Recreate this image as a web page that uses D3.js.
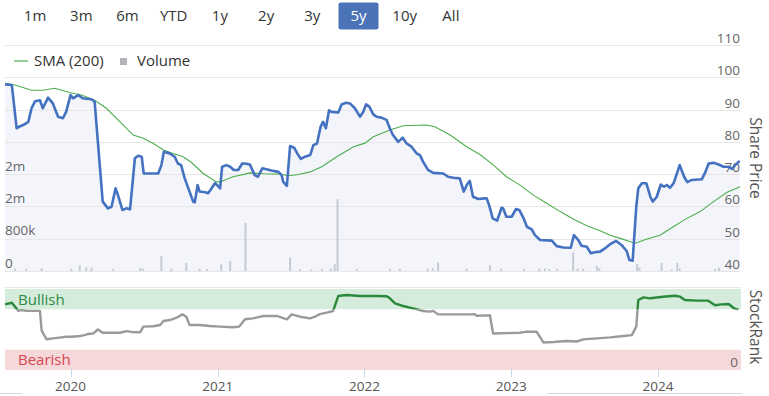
<!DOCTYPE html>
<html>
<head>
<meta charset="utf-8">
<script src="https://cdn.jsdelivr.net/npm/d3@7"></script>
<style>
  body { margin: 0; background: #fff; font-family: "Open Sans", sans-serif; }
  svg { display: block; }
</style>
</head>
<body>
<svg id="chart" width="769" height="396"></svg>
<script>
// ---- data ----
const rangeButtons = ["1m", "3m", "6m", "YTD", "1y", "2y", "3y", "5y", "10y", "All"];
const activeRange = "5y";

const price = [
  ["2019-07-22", 97.8], ["2019-08-08", 97.6], ["2019-08-20", 84.2], ["2019-08-26", 84.7],
  ["2019-09-05", 85.2], ["2019-09-18", 86.2], ["2019-09-26", 90.4], ["2019-10-05", 92.6],
  ["2019-10-17", 92.9], ["2019-10-24", 90.4], ["2019-11-06", 93.7], ["2019-11-18", 91.9],
  ["2019-12-01", 87.8], ["2019-12-13", 87.3], ["2019-12-21", 89.3], ["2020-01-01", 94.5],
  ["2020-01-07", 93.5], ["2020-01-20", 94.5], ["2020-01-31", 93.5], ["2020-02-22", 93.2],
  ["2020-03-01", 92.4], ["2020-03-09", 80.0], ["2020-03-21", 61.5], ["2020-04-03", 59.4],
  ["2020-04-12", 59.9], ["2020-04-22", 65.6], ["2020-04-28", 63.5], ["2020-05-09", 58.9],
  ["2020-05-19", 59.4], ["2020-05-28", 59.1], ["2020-06-09", 74.9], ["2020-06-17", 75.7],
  ["2020-06-26", 75.4], ["2020-07-01", 70.2], ["2020-08-06", 70.2], ["2020-08-14", 72.8],
  ["2020-08-20", 76.9], ["2020-09-04", 76.4], ["2020-09-16", 75.4], ["2020-09-24", 73.3],
  ["2020-10-02", 72.8], ["2020-10-11", 68.7], ["2020-10-23", 64.6], ["2020-11-01", 61.5],
  ["2020-11-05", 61.3], ["2020-11-12", 66.6], ["2020-11-17", 64.6], ["2020-12-01", 64.4],
  ["2020-12-08", 64.1], ["2020-12-14", 65.1], ["2020-12-25", 67.2], ["2021-01-02", 66.3],
  ["2021-01-07", 65.6], ["2021-01-12", 72.3], ["2021-01-23", 72.8], ["2021-02-01", 72.3],
  ["2021-02-10", 71.3], ["2021-02-21", 71.3], ["2021-03-03", 73.3], ["2021-03-10", 73.3],
  ["2021-03-22", 73.0], ["2021-04-03", 69.7], ["2021-04-11", 69.2], ["2021-04-22", 71.8],
  ["2021-05-02", 71.5], ["2021-05-15", 71.1], ["2021-06-01", 70.7], ["2021-06-09", 69.7],
  ["2021-06-13", 67.6], ["2021-06-22", 66.4], ["2021-06-30", 78.7], ["2021-07-10", 78.2],
  ["2021-07-18", 76.4], ["2021-07-27", 74.7], ["2021-08-06", 75.4], ["2021-08-19", 75.9],
  ["2021-08-27", 79.0], ["2021-09-05", 79.5], ["2021-09-14", 84.7], ["2021-09-20", 86.2],
  ["2021-09-27", 84.2], ["2021-10-05", 89.8], ["2021-10-11", 89.3], ["2021-10-28", 89.1],
  ["2021-11-05", 91.6], ["2021-11-16", 92.1], ["2021-11-26", 91.9], ["2021-12-08", 90.4],
  ["2021-12-21", 87.8], ["2021-12-29", 89.3], ["2022-01-05", 91.6], ["2022-01-13", 90.9],
  ["2022-01-23", 88.5], ["2022-01-31", 87.8], ["2022-02-12", 87.5], ["2022-02-25", 86.8],
  ["2022-03-05", 84.2], ["2022-03-13", 82.1], ["2022-03-26", 80.0], ["2022-04-06", 81.3],
  ["2022-04-16", 79.5], ["2022-04-28", 78.5], ["2022-05-11", 76.4], ["2022-05-19", 75.9],
  ["2022-05-27", 73.8], ["2022-06-08", 71.3], ["2022-06-21", 70.4], ["2022-07-16", 70.2],
  ["2022-07-28", 69.2], ["2022-08-10", 68.9], ["2022-08-26", 68.7], ["2022-09-05", 64.6],
  ["2022-09-13", 66.8], ["2022-09-20", 67.9], ["2022-09-28", 63.0], ["2022-10-11", 62.3],
  ["2022-10-27", 62.5], ["2022-11-01", 62.5], ["2022-11-07", 60.4], ["2022-11-16", 56.3],
  ["2022-11-27", 55.6], ["2022-12-08", 59.6], ["2022-12-12", 59.4], ["2022-12-20", 56.8],
  ["2023-01-02", 56.8], ["2023-01-13", 59.2], ["2023-01-21", 58.9], ["2023-02-01", 56.3],
  ["2023-02-09", 53.7], ["2023-02-21", 52.9], ["2023-03-01", 51.1], ["2023-03-14", 49.6],
  ["2023-04-12", 49.4], ["2023-04-24", 47.7], ["2023-05-11", 47.3], ["2023-05-29", 47.2],
  ["2023-06-06", 51.1], ["2023-06-17", 49.6], ["2023-06-25", 47.8], ["2023-07-08", 47.5],
  ["2023-07-18", 45.5], ["2023-07-28", 45.8], ["2023-08-10", 46.0], ["2023-08-22", 47.0],
  ["2023-09-04", 48.3], ["2023-09-19", 49.3], ["2023-10-03", 48.0], ["2023-10-15", 46.2],
  ["2023-10-22", 43.4], ["2023-10-30", 43.2], ["2023-11-08", 59.9], ["2023-11-13", 65.6],
  ["2023-11-22", 67.2], ["2023-12-03", 67.2], ["2023-12-13", 63.0], ["2023-12-19", 61.5],
  ["2023-12-29", 63.0], ["2024-01-08", 66.8], ["2024-01-16", 66.1], ["2024-01-23", 66.6],
  ["2024-01-31", 65.8], ["2024-02-09", 67.2], ["2024-02-24", 72.8], ["2024-03-06", 69.2],
  ["2024-03-14", 67.5], ["2024-03-25", 68.2], ["2024-04-19", 68.4], ["2024-04-28", 70.7],
  ["2024-05-06", 73.3], ["2024-05-18", 73.5], ["2024-05-31", 73.0], ["2024-06-12", 72.3],
  ["2024-06-25", 72.3], ["2024-07-03", 71.6], ["2024-07-11", 72.8], ["2024-07-22", 74.1]
];

const sma200 = [
  ["2019-07-22", 98.1], ["2019-08-16", 97.6], ["2019-09-26", 96.0], ["2019-10-24", 96.0],
  ["2019-11-23", 96.6], ["2019-12-30", 95.3], ["2020-01-28", 94.5], ["2020-03-01", 92.9],
  ["2020-03-30", 90.4], ["2020-05-03", 86.2], ["2020-06-05", 82.1], ["2020-06-30", 81.1],
  ["2020-07-25", 79.5], ["2020-08-19", 77.5], ["2020-09-12", 76.4], ["2020-10-07", 75.4],
  ["2020-10-28", 73.6], ["2020-11-26", 70.2], ["2020-12-29", 67.6], ["2021-01-07", 67.6],
  ["2021-02-08", 69.2], ["2021-03-10", 70.0], ["2021-03-22", 70.4], ["2021-04-25", 70.1],
  ["2021-06-05", 70.0], ["2021-06-26", 69.5], ["2021-07-21", 69.9], ["2021-08-19", 70.7],
  ["2021-09-17", 72.3], ["2021-10-24", 75.4], ["2021-12-05", 78.5], ["2022-01-02", 79.6],
  ["2022-01-23", 81.6], ["2022-03-05", 83.7], ["2022-04-08", 85.0], ["2022-06-04", 85.2],
  ["2022-06-25", 84.7], ["2022-08-02", 82.1], ["2022-09-12", 78.5], ["2022-10-16", 76.0],
  ["2022-11-18", 72.8], ["2022-12-20", 69.2], ["2023-01-23", 66.6], ["2023-02-25", 63.5],
  ["2023-03-30", 61.0], ["2023-05-03", 58.4], ["2023-06-04", 56.1], ["2023-07-08", 54.0],
  ["2023-08-10", 52.5], ["2023-09-04", 51.1], ["2023-09-29", 50.1], ["2023-11-05", 48.6],
  ["2023-12-05", 49.9], ["2024-01-06", 51.1], ["2024-02-08", 53.7], ["2024-03-13", 56.3],
  ["2024-04-15", 58.4], ["2024-05-18", 61.5], ["2024-06-21", 64.4], ["2024-07-23", 66.1]
];

const volume = [
  ["2019-08-16", 60000], ["2019-09-13", 50000], ["2019-10-21", 70000], ["2020-01-03", 60000],
  ["2020-01-24", 140000], ["2020-02-09", 90000], ["2020-02-22", 80000], ["2020-04-16", 50000],
  ["2020-06-22", 70000], ["2020-06-29", 60000], ["2020-08-14", 370000], ["2020-09-08", 60000],
  ["2020-10-15", 200000], ["2020-11-17", 60000], ["2020-12-05", 50000], ["2021-01-10", 170000],
  ["2021-02-01", 250000], ["2021-03-11", 1190000], ["2021-06-30", 330000], ["2021-07-25", 40000],
  ["2021-08-22", 40000], ["2021-09-17", 50000], ["2021-10-09", 60000], ["2021-10-19", 170000],
  ["2021-10-26", 1780000], ["2021-12-13", 50000], ["2022-03-05", 50000], ["2022-03-30", 60000],
  ["2022-06-07", 60000], ["2022-06-20", 70000], ["2022-07-03", 210000], ["2022-09-12", 60000],
  ["2022-11-09", 140000], ["2022-12-07", 60000], ["2023-02-01", 50000], ["2023-03-12", 60000],
  ["2023-03-26", 60000], ["2023-04-06", 50000], ["2023-04-25", 50000], ["2023-06-04", 460000],
  ["2023-06-15", 60000], ["2023-06-29", 60000], ["2023-08-02", 130000], ["2023-08-08", 70000],
  ["2023-11-10", 170000], ["2023-11-16", 90000], ["2024-01-10", 200000], ["2024-02-04", 40000],
  ["2024-02-18", 200000], ["2024-02-24", 60000], ["2024-05-22", 50000], ["2024-06-01", 80000]
];

const stockRank = [
  ["2019-07-22", 81], ["2019-08-08", 83], ["2019-08-16", 78], ["2019-08-24", 73],
  ["2019-09-01", 74], ["2019-09-13", 73], ["2019-10-17", 73], ["2019-10-21", 49],
  ["2019-11-02", 38], ["2019-11-18", 39], ["2019-12-05", 40], ["2019-12-21", 41],
  ["2020-01-03", 41], ["2020-01-24", 42], ["2020-02-05", 43], ["2020-02-13", 44.4],
  ["2020-02-26", 45], ["2020-03-09", 50], ["2020-03-21", 46], ["2020-04-07", 46],
  ["2020-05-03", 46], ["2020-05-19", 48], ["2020-06-01", 47], ["2020-06-22", 46.5],
  ["2020-06-30", 53.5], ["2020-07-25", 54], ["2020-08-11", 55.5], ["2020-08-19", 60.5],
  ["2020-09-04", 61.7], ["2020-09-21", 64.6], ["2020-10-05", 68.7], ["2020-10-15", 65.8],
  ["2020-10-23", 55.5], ["2020-11-17", 55.5], ["2020-12-12", 54.3], ["2021-01-07", 53.5],
  ["2021-02-08", 52.7], ["2021-02-23", 53.5], ["2021-03-10", 62.6], ["2021-03-30", 63.8],
  ["2021-04-24", 66.7], ["2021-05-28", 66.7], ["2021-06-22", 62.6], ["2021-07-04", 68.7],
  ["2021-07-25", 65.8], ["2021-08-19", 63.8], ["2021-08-31", 65.8], ["2021-09-12", 69],
  ["2021-09-29", 70.8], ["2021-10-15", 72.8], ["2021-10-20", 80], ["2021-10-28", 91.4],
  ["2021-11-18", 92.6], ["2021-12-21", 91.4], ["2022-01-31", 91.4], ["2022-02-25", 91.0],
  ["2022-03-04", 89.0], ["2022-03-18", 82.3], ["2022-04-07", 79], ["2022-05-02", 76],
  ["2022-05-27", 72.8], ["2022-06-13", 72], ["2022-06-21", 73], ["2022-07-03", 68.7],
  ["2022-08-10", 68.7], ["2022-09-20", 68.7], ["2022-10-02", 69], ["2022-10-07", 67],
  ["2022-11-09", 67.5], ["2022-11-17", 45], ["2022-12-20", 45.5], ["2023-01-23", 46],
  ["2023-02-09", 47.3], ["2023-03-05", 47.3], ["2023-03-22", 34], ["2023-04-16", 34.5],
  ["2023-05-19", 35.8], ["2023-06-13", 35.2], ["2023-06-30", 37.8], ["2023-08-02", 39],
  ["2023-09-04", 40.3], ["2023-10-07", 42], ["2023-10-28", 43], ["2023-11-08", 53.5],
  ["2023-11-13", 86.4], ["2023-11-26", 89.7], ["2023-12-13", 88.5], ["2024-01-14", 90.5],
  ["2024-02-12", 91.7], ["2024-02-25", 90.5], ["2024-03-08", 86.4], ["2024-04-06", 85.6],
  ["2024-05-05", 85.6], ["2024-05-22", 80], ["2024-06-07", 81], ["2024-06-25", 81.5],
  ["2024-07-07", 76.5], ["2024-07-19", 74.5]
];

const priceTicks = [40, 50, 60, 70, 80, 90, 100, 110];
const volumeTicks = [0, 800000, 1600000, 2400000];
const yearTicks = ["2020-01-01", "2021-01-01", "2022-01-01", "2023-01-01", "2024-01-01"];
const rankBands = [
  { name: "Bullish", from: 75, to: 100, fill: "#d5ebdc", color: "#2f8c3f" },
  { name: "Bearish", from: 0, to: 25, fill: "#f5d8d9", color: "#d9474f" }
];
const bullishLevel = 75;

// ---- scales ----
const parse = d3.timeParse("%Y-%m-%d");
const left = 5, right = 740;

const x = d3.scaleTime()
    .domain([parse("2019-07-22"), parse("2024-07-23")])
    .range([left, right]);

const yPrice = d3.scaleLinear().domain([40, 110]).range([271, 45]);
const yVol = d3.scaleLinear().domain([0, 800000]).range([271, 271 - (271 - 45) / 7]);
const yRank = d3.scaleLinear().domain([0, 100]).range([370, 289]);

const svg = d3.select('#chart');
const font = '"Open Sans", sans-serif';

// ---- range selector ----
const btn = d3.scaleBand().domain(rangeButtons).range([12, 474]);
const buttons = svg.append('g').selectAll('g').data(rangeButtons).join('g')
    .attr('transform', d => `translate(${btn(d) + btn.bandwidth() / 2},0)`);
buttons.filter(d => d === activeRange).append('rect')
    .attr('x', -20).attr('y', 2.5).attr('width', 40).attr('height', 27)
    .attr('rx', 2).attr('fill', '#4a73b8');
buttons.append('text')
    .attr('y', 21).attr('text-anchor', 'middle')
    .attr('font-family', font).attr('font-size', 15)
    .attr('fill', d => d === activeRange ? '#fff' : '#333')
    .text(d => d);

// ---- price panel ----
const priceData = price.map(([d, v]) => ({ date: parse(d), value: v }));
const smaData = sma200.map(([d, v]) => ({ date: parse(d), value: v }));

// area first so the grid shows through it
svg.append('path')
    .datum(priceData)
    .attr('fill', '#f3f5fb')
    .attr('d', d3.area().x(d => x(d.date)).y0(yPrice(40)).y1(d => yPrice(d.value)));

const grid = svg.append('g');
grid.selectAll('line').data(priceTicks).join('line')
    .attr('x1', left).attr('x2', right)
    .attr('y1', d => Math.round(yPrice(d)) + 0.5).attr('y2', d => Math.round(yPrice(d)) + 0.5)
    .attr('stroke', '#e6e6e6');

svg.append('g').selectAll('rect').data(volume).join('rect')
    .attr('x', d => x(parse(d[0])) - 1)
    .attr('y', d => yVol(d[1]))
    .attr('width', 2)
    .attr('height', d => yVol(0) - yVol(d[1]))
    .attr('fill', '#c8cad5');

grid.selectAll('text.price').data(priceTicks).join('text')
    .attr('class', 'price')
    .attr('x', right).attr('y', d => yPrice(d) - 2)
    .attr('text-anchor', 'end')
    .attr('font-family', font).attr('font-size', 13.5).attr('fill', '#666')
    .text(d => d);

const volFmt = v => v >= 1e6 ? Math.round(v / 1e6) + 'm' : v >= 1000 ? (v / 1000) + 'k' : v;
grid.selectAll('text.vol').data(volumeTicks).join('text')
    .attr('class', 'vol')
    .attr('x', left).attr('y', d => yVol(d) - 3.5)
    .attr('font-family', font).attr('font-size', 13.5).attr('fill', '#666')
    .text(volFmt);

svg.append('path')
    .datum(smaData)
    .attr('fill', 'none')
    .attr('stroke', '#4cae4c')
    .attr('stroke-width', 1.1)
    .attr('d', d3.line().x(d => x(d.date)).y(d => yPrice(d.value)));

svg.append('path')
    .datum(priceData)
    .attr('fill', 'none')
    .attr('stroke', '#4472c0')
    .attr('stroke-width', 2.6)
    .attr('stroke-linejoin', 'round')
    .attr('d', d3.line().x(d => x(d.date)).y(d => yPrice(d.value)));

// legend
const legend = svg.append('g').attr('font-family', font).attr('font-size', 15).attr('fill', '#333');
legend.append('line').attr('x1', 14).attr('x2', 28).attr('y1', 61).attr('y2', 61)
    .attr('stroke', '#4cae4c').attr('stroke-width', 1.2);
legend.append('text').attr('x', 34).attr('y', 66).text('SMA (200)');
legend.append('rect').attr('x', 120).attr('y', 58).attr('width', 7).attr('height', 7).attr('fill', '#b4b4b8');
legend.append('text').attr('x', 137).attr('y', 66).text('Volume');

svg.append('text')
    .attr('transform', 'translate(750,158) rotate(90)')
    .attr('text-anchor', 'middle')
    .attr('font-family', font).attr('font-size', 15.5).attr('fill', '#555')
    .text('Share Price');

// ---- StockRank panel ----
svg.append('line').attr('x1', left).attr('x2', right + 1).attr('y1', 287.5).attr('y2', 287.5)
    .attr('stroke', '#e6e6e6');

svg.append('g').selectAll('rect').data(rankBands).join('rect')
    .attr('x', left).attr('width', right + 1 - left)
    .attr('y', d => yRank(d.to)).attr('height', d => yRank(d.from) - yRank(d.to))
    .attr('fill', d => d.fill);

svg.append('g').selectAll('text').data(rankBands).join('text')
    .attr('x', 18).attr('y', d => (yRank(d.to) + yRank(d.from)) / 2 + 5.5)
    .attr('font-family', font).attr('font-size', 15)
    .attr('fill', d => d.color)
    .text(d => d.name);

svg.append('text')
    .attr('x', right - 2).attr('y', yRank(0) - 3)
    .attr('text-anchor', 'end')
    .attr('font-family', font).attr('font-size', 13.5).attr('fill', '#666')
    .text(0);

const defs = svg.append('defs');
defs.append('clipPath').attr('id', 'clip-bull').append('rect')
    .attr('x', 0).attr('y', 0).attr('width', 769).attr('height', yRank(bullishLevel));
defs.append('clipPath').attr('id', 'clip-rest').append('rect')
    .attr('x', 0).attr('y', yRank(bullishLevel)).attr('width', 769).attr('height', 396);

const rankData = stockRank.map(([d, v]) => ({ date: parse(d), value: v }));
const rankLine = d3.line().x(d => x(d.date)).y(d => yRank(d.value));
[['clip-rest', '#9a9a9a'], ['clip-bull', '#2a8a3c']].forEach(([clip, colour]) => {
    svg.append('path')
        .datum(rankData)
        .attr('clip-path', `url(#${clip})`)
        .attr('fill', 'none')
        .attr('stroke', colour)
        .attr('stroke-width', 2.4)
        .attr('stroke-linejoin', 'round')
        .attr('d', rankLine);
});

svg.append('text')
    .attr('transform', 'translate(750,327) rotate(90)')
    .attr('text-anchor', 'middle')
    .attr('font-family', font).attr('font-size', 15.5).attr('fill', '#555')
    .text('StockRank');

// ---- x axis ----
const years = yearTicks.map(parse);
const xAxis = svg.append('g');
xAxis.selectAll('line').data(years).join('line')
    .attr('x1', d => Math.round(x(d)) + 0.5).attr('x2', d => Math.round(x(d)) + 0.5)
    .attr('y1', 368).attr('y2', 377)
    .attr('stroke', '#ccd6eb');
xAxis.selectAll('text').data(years).join('text')
    .attr('x', d => x(d)).attr('y', 391)
    .attr('text-anchor', 'middle')
    .attr('font-family', font).attr('font-size', 13.5).attr('fill', '#555')
    .text(d3.timeFormat('%Y'));

// navigator edge
svg.append('line').attr('x1', 0).attr('x2', 22).attr('y1', 393.5).attr('y2', 393.5).attr('stroke', '#d8d8d8');
svg.append('line').attr('x1', 548).attr('x2', 742).attr('y1', 393.5).attr('y2', 393.5).attr('stroke', '#d8d8d8');
</script>
</body>
</html>
